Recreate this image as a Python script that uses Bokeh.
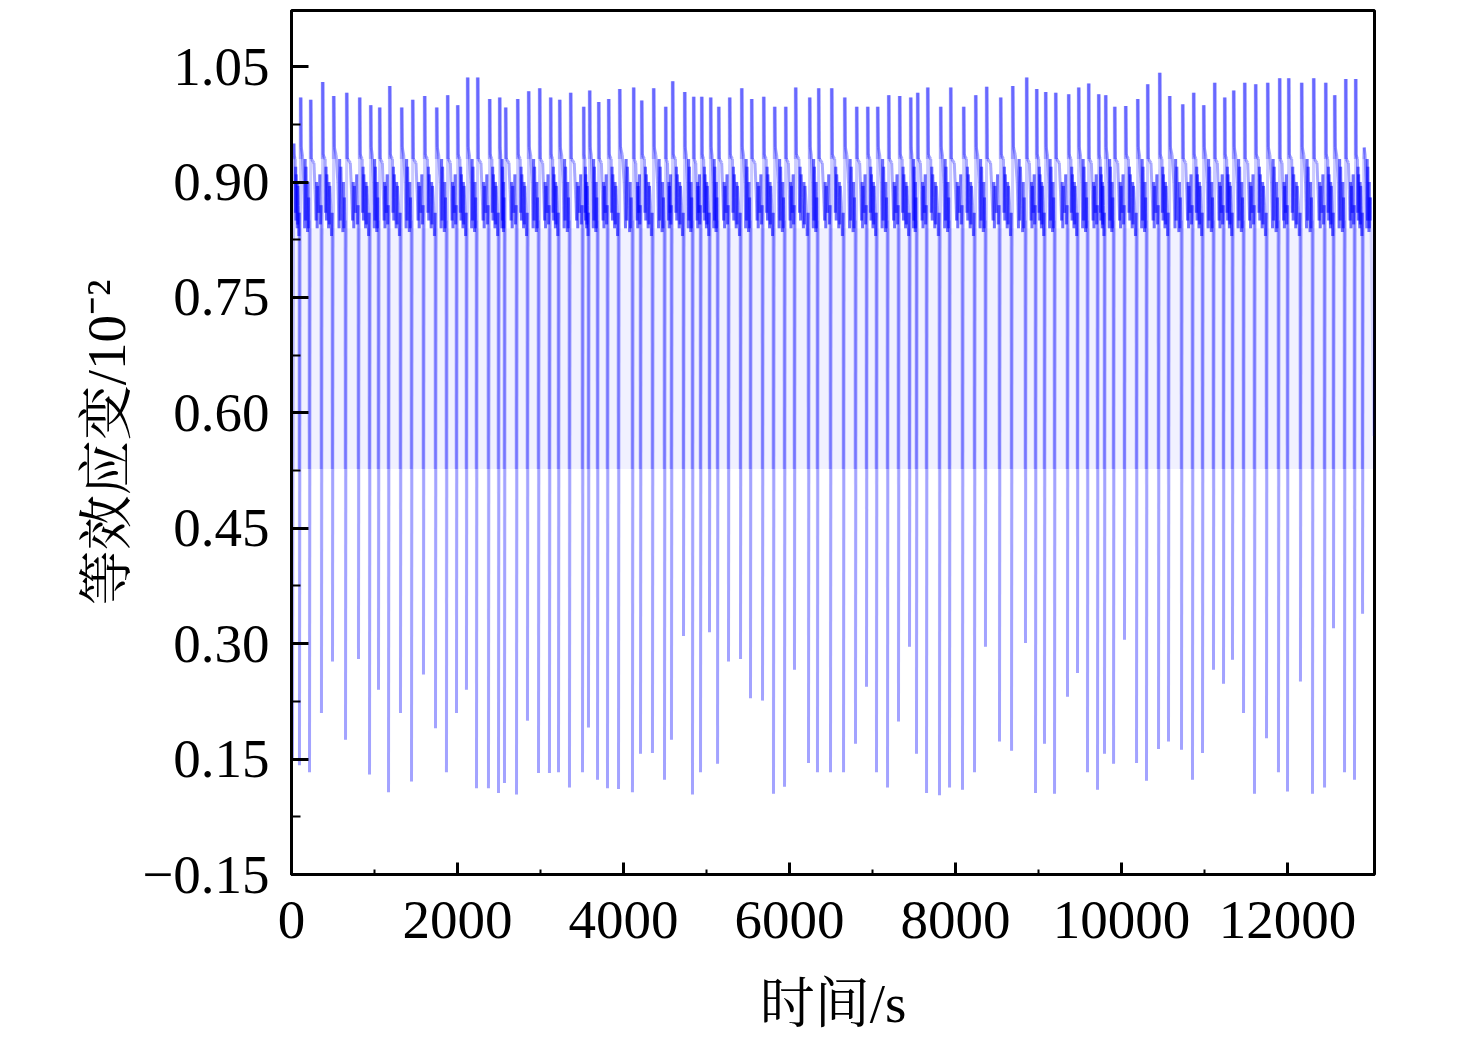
import numpy as np
from bokeh.plotting import figure
from bokeh.models import Range1d, FixedTicker, ColumnDataSource
from bokeh.embed import file_html
from bokeh.resources import INLINE

# ---- data ----
# time (s) of each deep unloading dip
dip_time = [12, 96, 217, 361, 494, 651, 807, 940, 1048, 1169, 1313, 1446, 1590, 1735, 1867, 1988,
            2108, 2229, 2373, 2494, 2566, 2711, 2843, 2976, 3108, 3217,
            3349, 3506, 3578, 3687, 3807, 3940, 4108, 4205, 4349, 4494, 4578, 4723, 4831, 4928,
            5036, 5133, 5265, 5410, 5530, 5675, 5807, 5940, 6060, 6229, 6337, 6494,
            6651, 6795, 6928, 7048, 7181, 7313, 7446, 7530, 7651, 7807, 7928, 8084, 8229, 8361,
            8530, 8675, 8843, 8964, 9072, 9193, 9349, 9470, 9590, 9711, 9795,
            9904, 10036, 10181, 10301, 10446, 10566, 10723, 10855, 10976, 11108, 11229, 11337,
            11470, 11602, 11747, 11891, 12000, 12156, 12301, 12446, 12554, 12687, 12807, 12904]
# minimum equivalent strain of each dip (chart's own scale)
dip_value = [0.15, 0.142, 0.133, 0.21, 0.277, 0.175, 0.28, 0.13, 0.24, 0.107, 0.21, 0.121, 0.26,
             0.19, 0.133, 0.21, 0.24, 0.112, 0.112, 0.106, 0.119, 0.104, 0.2, 0.132, 0.132, 0.133,
             0.113, 0.133, 0.191, 0.123, 0.112, 0.111, 0.107, 0.157, 0.158, 0.123, 0.175, 0.31,
             0.104, 0.133, 0.315, 0.144, 0.277, 0.28, 0.229, 0.226, 0.105, 0.114, 0.266, 0.145,
             0.133, 0.133,
             0.133, 0.17, 0.244, 0.133, 0.113, 0.199, 0.296, 0.157, 0.106, 0.103, 0.113, 0.11,
             0.133, 0.296, 0.173, 0.161, 0.301, 0.106, 0.17, 0.105, 0.231, 0.262, 0.133, 0.11, 0.157,
             0.144, 0.305, 0.145, 0.122, 0.163, 0.173, 0.162, 0.123, 0.158, 0.266, 0.248, 0.279,
             0.21, 0.105, 0.177, 0.133, 0.108, 0.251, 0.105, 0.113, 0.32, 0.133, 0.123, 0.339]
# peak reached right after each dip
peak_value = [0.95, 1.01, 1.007, 1.03, 1.012, 1.016, 1.01, 1.0, 0.997, 1.025, 0.997, 1.007, 1.012,
              0.997, 1.013, 1.0, 1.036, 1.036, 1.008, 1.01, 0.997, 1.008, 1.018, 1.022, 1.01, 1.007,
              1.016, 0.998, 1.019, 1.004, 1.008, 1.021, 1.023, 1.006, 1.022, 0.998, 1.031, 1.017,
              1.011, 1.011, 1.01, 0.998, 1.01, 1.022, 1.008, 1.011, 0.998, 0.998, 1.023, 1.01,
              1.022, 1.022,
              1.01, 0.998, 0.998, 0.998, 1.013, 1.012, 1.01, 1.016, 1.023, 0.998, 1.023, 0.998,
              1.013, 1.024, 1.01, 1.025, 1.036, 1.021, 1.017, 1.016, 1.014, 1.023, 1.028, 1.014, 1.013,
              0.998, 0.999, 1.008, 1.027, 1.042, 1.012, 1.001, 1.016, 1.0, 1.029, 1.01, 1.019,
              1.029, 1.027, 1.029, 1.035, 1.035, 1.029, 1.035, 1.029, 1.013, 1.034, 1.034, 0.93]
# typical wander of the strain between a peak and the next dip (three shapes seen in the band)
band_shapes = [
    ([0.06, 0.25, 0.3, 0.34, 0.38, 0.42, 0.5, 0.6, 0.64, 0.68, 0.72, 0.82, 0.9, 0.95],
     [0.935, 0.93, 0.86, 0.92, 0.85, 0.91, 0.88, 0.84, 0.9, 0.845, 0.895, 0.87, 0.83, 0.86]),
    ([0.06, 0.2, 0.35, 0.45, 0.5, 0.55, 0.6, 0.7, 0.78, 0.82, 0.86, 0.9, 0.95],
     [0.945, 0.935, 0.9, 0.84, 0.93, 0.85, 0.92, 0.87, 0.835, 0.9, 0.84, 0.88, 0.85]),
    ([0.06, 0.3, 0.4, 0.5, 0.55, 0.6, 0.65, 0.75, 0.85, 0.9, 0.95],
     [0.93, 0.925, 0.89, 0.85, 0.9, 0.84, 0.895, 0.86, 0.91, 0.845, 0.87]),
]
band_top = 0.93                  # level from which each peak spike rises
partial_level = 0.527            # shallow drop level seen before each dip
start_value = 0.86
tail_time = [13000, 13040]
tail_value = [0.88, 0.57]
haze_time = [0, 13048]
haze_low = [0.527, 0.527]
haze_high = [0.84, 0.84]

y_ticks = [0, 0.15, 0.3, 0.45, 0.6, 0.75, 0.9, 1.05]
y_tick_labels = ["\u22120.15", "0.15", "0.30", "0.45", "0.60", "0.75", "0.90", "1.05"]
y_minor = [0.075, 0.225, 0.375, 0.525, 0.675, 0.825, 0.975]
x_ticks = [0, 2000, 4000, 6000, 8000, 10000, 12000]
x_minor = [1000, 3000, 5000, 7000, 9000, 11000]

# ---- assemble polyline from the read values ----
xs, ys = [0.0], [start_value]
n = len(dip_time)
last_level = start_value
for i in range(n):
    t = dip_time[i]
    if i > 0:
        xs += [t - 4, t - 2]
        ys += [partial_level, last_level]
    xs += [t, t + 15]
    ys += [dip_value[i], peak_value[i]]
    nxt = dip_time[i + 1] if i + 1 < n else tail_time[0]
    g = nxt - t
    pos, lev = band_shapes[i % 3]
    for f, lv in zip(pos, lev):
        xs.append(t + 15 + f * (g - 15))
        ys.append(lv)
    last_level = lev[-1]
xs += tail_time
ys += tail_value

x0, y0, x1, y1 = xs[:-1], ys[:-1], xs[1:], ys[1:]
alphas = []
for a, b in zip(y0, y1):
    lo = min(a, b)
    if lo >= 0.8:
        alphas.append(0.34)      # dense band
    elif lo >= 0.5:
        alphas.append(0.12)      # shallow drops
    else:
        alphas.append(0.2)       # deep dips
src = ColumnDataSource(dict(x0=x0, y0=y0, x1=x1, y1=y1, a=alphas))
spikes = ColumnDataSource(dict(x=[t + 15 for t in dip_time], lo=[band_top] * n, hi=peak_value))

p = figure(frame_width=1083, frame_height=864, output_backend="svg", toolbar_location=None,
           x_range=Range1d(0, 13048), y_range=Range1d(0, 1.123))
p.min_border_left = 291
p.min_border_right = 94
p.min_border_top = 10
p.min_border_bottom = 160
p.background_fill_color = "white"
p.border_fill_color = "white"
p.outline_line_color = "black"
p.outline_line_width = 3
p.xgrid.visible = False
p.ygrid.visible = False

p.varea(x=haze_time, y1=haze_low, y2=haze_high, fill_color="#0000ff", fill_alpha=0.055)
p.segment(x0="x0", y0="y0", x1="x1", y1="y1", source=src, line_color="#0000ff",
          line_alpha="a", line_width=3)
p.segment(x0="x", y0="lo", x1="x", y1="hi", source=spikes, line_color="#0000ff",
          line_alpha=0.22, line_width=4)

serif = "Liberation Serif"
lab_font = "Liberation Serif, Noto Serif CJK SC, Noto Sans CJK SC"

yax = p.yaxis[0]
yax.ticker = FixedTicker(ticks=y_ticks, minor_ticks=y_minor)
yax.major_label_overrides = {t: l for t, l in zip(y_ticks, y_tick_labels)}
yax.major_tick_in = 17
yax.major_tick_out = 0
yax.minor_tick_in = 9
yax.minor_tick_out = 0
yax.major_label_standoff = 22
yax.axis_label = "等效应变/10\u207b\u00b2"
yax.axis_label_standoff = 2

xax = p.xaxis[0]
xax.ticker = FixedTicker(ticks=x_ticks, minor_ticks=x_minor)
xax.major_tick_in = 12
xax.major_tick_out = 0
xax.minor_tick_in = 5
xax.minor_tick_out = 0
xax.major_label_standoff = 27
xax.axis_label = "时间/s"
xax.axis_label_standoff = 32

for ax in (xax, yax):
    ax.axis_line_width = 3
    ax.axis_line_color = "black"
    ax.major_tick_line_width = 3
    ax.minor_tick_line_width = 2
    ax.major_tick_line_color = "black"
    ax.minor_tick_line_color = "black"
    ax.major_label_text_font = serif
    ax.major_label_text_font_size = "55px"
    ax.major_label_text_color = "black"
    ax.axis_label_text_font = lab_font
    ax.axis_label_text_font_size = "55px"
    ax.axis_label_text_font_style = "normal"
    ax.axis_label_text_color = "black"

open("out.html", "w").write(file_html(p, INLINE))
